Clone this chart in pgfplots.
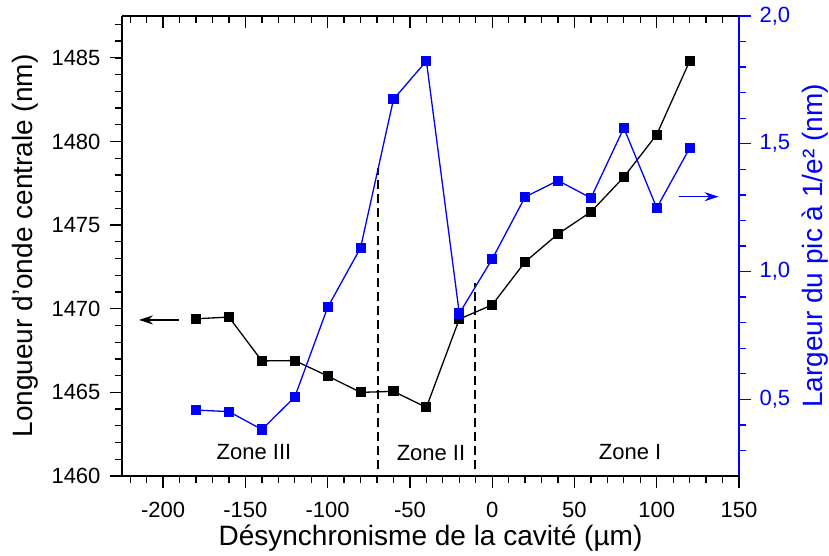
\documentclass[border=0pt]{standalone}
\usepackage{pgfplots}
\pgfplotsset{compat=1.18}
\usepackage{fontspec}
\setmainfont{Liberation Sans}
\usetikzlibrary{arrows.meta}
\definecolor{myblue}{RGB}{0,0,255}

\newcommand{\tickfont}{\fontsize{22}{26}\selectfont}
\newcommand{\labfont}{\fontsize{28}{32}\selectfont}

\pgfplotstableread{
x y
-180 1469.40
-160 1469.50
-140 1466.88
-120 1466.90
-100 1465.98
-80 1465.00
-60 1465.06
-40 1464.10
-20 1469.38
0 1470.23
20 1472.80
40 1474.47
60 1475.79
80 1477.87
100 1480.41
120 1484.80
}\blackdata

\pgfplotstableread{
x y
-180 0.458
-160 0.452
-140 0.382
-120 0.509
-100 0.860
-80 1.093
-60 1.674
-40 1.824
-20 0.836
0 1.049
20 1.292
40 1.356
60 1.288
80 1.562
100 1.249
120 1.483
}\bluedata

\pgfplotsset{
  common/.style={
    at={(122pt,79pt)}, anchor=south west,
    scale only axis, width=617pt, height=460pt,
    xmin=-225, xmax=150,
    xtick={-200,-150,...,150},
    minor xtick={-220,-210,...,140},
    major tick length=12pt, minor tick length=7pt,
    every tick/.style={line width=1.3pt},
    every minor tick/.style={line width=1.3pt},
    axis line style={line width=1.3pt},
    every tick label/.append style={font=\tickfont},
    every axis label/.append style={font=\labfont},
    /pgf/number format/assume math mode=true,
    clip=false,
  }
}

\begin{document}
\begin{tikzpicture}[x=1pt,y=1pt]
\path[use as bounding box] (0,0) rectangle (829,555);

% top axis with inward ticks
\begin{axis}[common,
  axis x line*=top, hide y axis,
  tick align=inside,
  xticklabels={},
  ymin=0, ymax=1,
]
\end{axis}

% left axis (black)
\begin{axis}[common,
  axis x line*=bottom, axis y line*=left,
  tick align=outside,
  ymin=1460, ymax=1487.5,
  ytick={1460,1465,...,1485},
  minor ytick={1461,1462,...,1487},
  xlabel={Désynchronisme de la cavité (µm)},
  ylabel={Longueur d'onde centrale (nm)},
  xlabel style={at={(axis description cs:0.5,0)}, anchor=base, yshift=-69pt, inner sep=0pt},
  ylabel style={at={(axis description cs:0,0.5)}, anchor=base, yshift=89pt, inner sep=0pt},
  xticklabel={\tickfont\pgfmathprintnumber[fixed]{\tick}},
  yticklabel={\tickfont\pgfmathprintnumber[fixed,set thousands separator={}]{\tick}},
  xticklabel style={yshift=-11pt},
  yticklabel style={xshift=-6pt},
]
\addplot[black, line width=1.3pt, mark=square*, mark size=4.4pt, mark options={solid}] table[x=x,y=y] {\blackdata};
\addplot[black, line width=1.8pt, dash pattern=on 9pt off 5pt] coordinates {(-69.6,1460.4) (-69.6,1478.4)};
\addplot[black, line width=1.8pt, dash pattern=on 9pt off 5pt] coordinates {(-10.3,1460.4) (-10.3,1471.55)};
\addplot[black, line width=1.5pt, -{Stealth[length=14pt,width=9pt]}] coordinates {(-190.4,1469.33) (-214.7,1469.33)};
\node[anchor=base, font=\tickfont, inner sep=0pt] at (axis cs:-144.8,1461.0) {Zone III};
\node[anchor=base, font=\tickfont, inner sep=0pt] at (axis cs:-37.2,1460.95) {Zone II};
\node[anchor=base, font=\tickfont, inner sep=0pt] at (axis cs:83.8,1461.0) {Zone I};
\end{axis}

% right axis (blue)
\begin{axis}[common,
  hide x axis,
  axis y line*=right,
  tick align=outside,
  ymin=0.2, ymax=2.0,
  ytick={0.5,1.0,1.5,2.0},
  minor ytick={0.3,0.4,...,1.95},
  y axis line style={myblue, line width=1.3pt},
  ytick style={myblue},
  yticklabel={\tickfont\pgfmathprintnumber[use comma,fixed,fixed zerofill,precision=1]{\tick}},
  yticklabel style={myblue, xshift=5pt},
  ylabel={Largeur du pic à 1/e² (nm)},
  ylabel style={myblue, at={(axis description cs:1,0.5)}, anchor=base, yshift=-83pt, inner sep=0pt},
]
\addplot[myblue, line width=1.3pt, mark=square*, mark size=4.4pt, mark options={solid}] table[x=x,y=y] {\bluedata};
\addplot[myblue, line width=1.5pt, -{Stealth[length=14pt,width=9pt]}] coordinates {(113.8,1.293) (137.6,1.293)};
\end{axis}
\end{tikzpicture}
\end{document}
